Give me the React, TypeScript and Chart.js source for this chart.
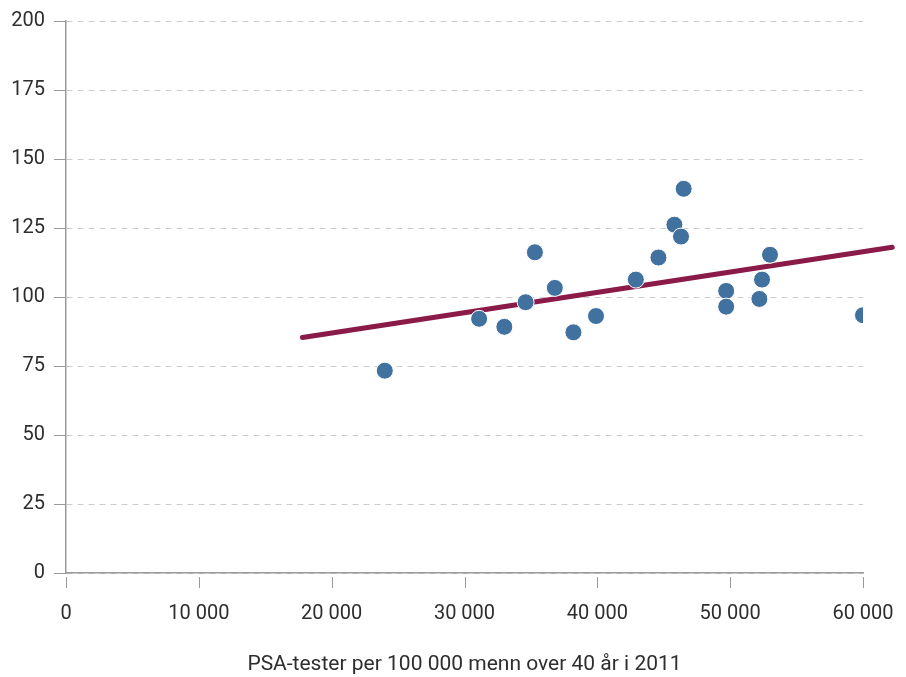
import React, { useEffect, useRef } from "react";
import { Chart, registerables } from "chart.js";

Chart.register(...registerables);

const xValues = [24000, 31100, 33000, 34600, 35300, 36800, 38200, 39900, 42900, 44600, 45800, 46300, 46500, 49700, 49700, 52200, 52400, 53000, 60000];
const yValues = [73.3, 92.1, 89.2, 98.1, 116.2, 103.3, 87.2, 93.1, 106.3, 114.3, 126.2, 121.9, 139.2, 102.2, 96.5, 99.3, 106.3, 115.3, 93.4];
const trendX = [17800, 62200];
const trendY = [85.3, 118.0];
const xTicks = [0, 10000, 20000, 30000, 40000, 50000, 60000];
const yTicks = [0, 25, 50, 75, 100, 125, 150, 175, 200];
const xTitle = "PSA-tester per 100 000 menn over 40 år i 2011";

const FONT = "Roboto";
const TEXT = "#2e2e2e";
const AXIS = "#9a9a9a";

const fmt = (v: number) => String(v).replace(/\B(?=(\d{3})+(?!\d))/g, " ");

const tickMarks = {
  id: "tickMarks",
  afterDraw(chart: any) {
    const { ctx, chartArea, scales } = chart;
    ctx.save();
    ctx.strokeStyle = AXIS;
    ctx.lineWidth = 1;
    ctx.beginPath();
    for (const v of xTicks) {
      const px = Math.round(scales.x.getPixelForValue(v)) + 0.5;
      ctx.moveTo(px, chartArea.bottom + 4);
      ctx.lineTo(px, chartArea.bottom + 15);
    }
    for (const v of yTicks) {
      const py = Math.round(scales.y.getPixelForValue(v)) + 0.5;
      ctx.moveTo(chartArea.left - 12, py);
      ctx.lineTo(chartArea.left, py);
    }
    ctx.stroke();
    ctx.restore();
  },
};

export default function App() {
  const ref = useRef<HTMLCanvasElement>(null);
  useEffect(() => {
    document.body.style.margin = "0";
    const chart = new Chart(ref.current!, {
      type: "scatter",
      data: {
        datasets: [
          {
            type: "line",
            data: trendX.map((x, i) => ({ x, y: trendY[i] })),
            borderColor: "#8a1a47",
            borderWidth: 5,
            borderCapStyle: "round",
            pointRadius: 0,
            clip: false,
            order: 2,
          } as any,
          {
            data: xValues.map((x, i) => ({ x, y: yValues[i] })),
            backgroundColor: "#41719f",
            borderColor: "#ffffff",
            borderWidth: 1,
            pointRadius: 8.5,
            order: 1,
          },
        ],
      },
      options: {
        animation: false,
        responsive: false,
        layout: { padding: { top: 21, right: 43, bottom: 0, left: 0 } },
        plugins: { legend: { display: false }, tooltip: { enabled: false } },
        scales: {
          x: {
            type: "linear",
            min: 0,
            max: 60000,
            afterFit: (s: any) => { s.height = 104; s.paddingLeft = 0; s.paddingRight = 0; },
            afterBuildTicks: (s: any) => { s.ticks = xTicks.map((v) => ({ value: v })); },
            grid: { display: false, drawTicks: false },
            border: { display: true, color: AXIS, width: 1.5 },
            ticks: {
              padding: 29,
              color: TEXT,
              font: { family: FONT, size: 20 },
              callback: (v: any) => fmt(Number(v)),
              maxRotation: 0,
            },
            title: {
              display: true,
              text: xTitle,
              color: TEXT,
              font: { family: FONT, size: 21 },
              padding: { top: 0, bottom: 0 },
            },
          },
          y: {
            type: "linear",
            min: 0,
            max: 200,
            afterFit: (s: any) => { s.width = 66; s.paddingTop = 0; s.paddingBottom = 0; },
            afterBuildTicks: (s: any) => { s.ticks = yTicks.map((v) => ({ value: v })); },
            grid: { color: "#cccccc", lineWidth: 1, drawTicks: false },
            border: { display: true, color: AXIS, width: 1.5, dash: [6, 5] },
            ticks: {
              padding: 21,
              color: TEXT,
              font: { family: FONT, size: 20 },
            },
          },
        },
      },
      plugins: [tickMarks],
    });
    return () => chart.destroy();
  }, []);
  return <canvas ref={ref} width={906} height={677} style={{ display: "block" }} />;
}
